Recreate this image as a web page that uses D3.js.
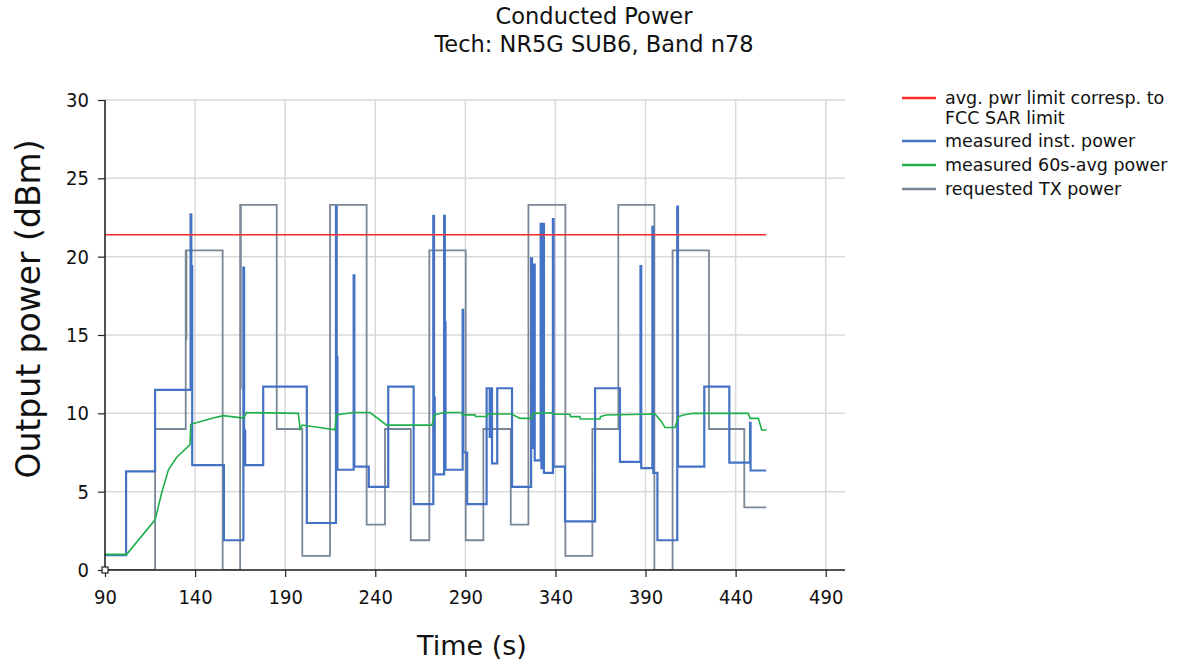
<!DOCTYPE html>
<html>
<head>
<meta charset="utf-8">
<script src="https://cdn.jsdelivr.net/npm/d3@7"></script>
<style>
  html, body { margin: 0; padding: 0; background: #fff; }
  svg { display: block; }
  text { font-family: "DejaVu Sans", Verdana, sans-serif; fill: #111; }
</style>
</head>
<body>
<svg id="chart" width="1182" height="663"></svg>
<script>
// ---------- data ----------
const titleLines = ["Conducted Power", "Tech: NR5G SUB6, Band n78"];
const xTicks = [90, 140, 190, 240, 290, 340, 390, 440, 490];
const yTicks = [0, 5, 10, 15, 20, 25, 30];
const seriesNames = ["avg. pwr limit corresp. to FCC SAR limit", "measured inst. power", "measured 60s-avg power", "requested TX power"];

const limitTime = [90, 457];
const limitPower = [21.4, 21.4];

const instTime = [90, 101.7, 117.8, 137.5, 137.9, 138.4, 156.0, 166.8, 167.2, 167.8, 177.8, 202.0, 218.2, 218.6, 219.0, 228.0, 228.4, 236.4, 247.2, 261.3, 272.2, 272.6, 273.0, 278.2, 278.6, 279.0, 288.5, 288.8, 291.0, 301.8, 303.5, 304.0, 304.8, 307.7, 315.9, 326.5, 327.0, 328.0, 328.5, 331.8, 332.2, 333.2, 333.6, 338.6, 339.0, 345.3, 362.0, 375.8, 387.2, 387.6, 393.8, 394.3, 396.6, 407.6, 408.0, 422.6, 436.5, 448.0, 448.3, 457.0];
const instPower = [0.95, 6.3, 11.5, 22.7, 19.4, 6.7, 1.9, 19.3, 8.9, 6.7, 11.7, 3.0, 23.2, 13.6, 6.4, 18.8, 6.6, 5.3, 11.7, 4.2, 22.6, 11.0, 6.1, 22.6, 15.8, 6.4, 16.6, 7.5, 4.2, 11.6, 8.5, 11.6, 6.8, 11.6, 5.3, 19.9, 7.8, 19.5, 7.0, 22.1, 6.5, 22.1, 6.2, 22.4, 6.6, 3.1, 11.6, 6.9, 19.4, 6.5, 21.9, 6.2, 1.9, 23.2, 6.6, 11.7, 6.85, 9.4, 6.35, 6.35];

const avgTime = [90, 102, 117.8, 121.4, 125.2, 129.8, 137.2, 137.6, 150, 155.7, 166.8, 168.6, 197.3, 198.3, 199.5, 217.7, 218.3, 227.8, 237.1, 246.3, 271.5, 272.8, 278, 288, 288.3, 295.4, 295.6, 301.8, 302, 315.7, 320.3, 326.8, 327.5, 337.9, 338.5, 348.1, 348.3, 353.6, 353.8, 364.7, 365, 368, 395.3, 398.9, 400.8, 406.4, 408.2, 411, 416.5, 447, 448, 452.6, 454.5, 457.2];
const avgPower = [1.0, 1.0, 3.2, 4.9, 6.4, 7.2, 8.0, 9.3, 9.7, 9.85, 9.7, 10.05, 10.0, 9.0, 9.25, 8.95, 9.9, 10.05, 10.05, 9.25, 9.25, 9.9, 10.05, 10.05, 9.9, 9.9, 9.8, 9.8, 9.96, 9.96, 9.68, 9.68, 10.0, 10.04, 9.95, 9.94, 9.79, 9.79, 9.64, 9.64, 9.79, 9.89, 9.96, 9.47, 9.1, 9.1, 9.79, 9.89, 10.0, 10.0, 9.68, 9.68, 8.94, 8.94];

const reqTime = [90, 117.8, 134.8, 135.0, 135.2, 155.3, 165.0, 165.2, 165.4, 185.3, 199.5, 214.9, 235.2, 245.4, 259.7, 270.0, 290.2, 300.0, 315.2, 325.0, 345.5, 360.5, 374.9, 394.9, 405.0, 425.2, 444.8, 457.0];
const reqPower = [0, 9.0, 20.4, 14.7, 20.4, 0, 23.3, 11.6, 23.3, 9.0, 0.9, 23.3, 2.9, 9.0, 1.9, 20.4, 1.9, 9.0, 2.9, 23.3, 0.9, 9.0, 23.3, 0, 20.4, 9.0, 4.0, 4.0];

// ---------- layout ----------
const svg = d3.select("#chart");
const L = 105, R = 845, T = 100, B = 570;
const x = d3.scaleLinear().domain([90, 500.7]).range([L, R]);
const y = d3.scaleLinear().domain([0, 30]).range([B, T]);

const colors = { limit: "#ff2a2a", inst: "#4472c4", avg: "#1fb04c", req: "#7a8797" };

// title
svg.selectAll("text.title").data(titleLines).join("text")
  .attr("class", "title")
  .attr("x", 594).attr("y", (d, i) => 24 + i * 28)
  .attr("text-anchor", "middle")
  .style("font-size", "22.5px")
  .text(d => d);

// grid
const grid = svg.append("g");
grid.selectAll("line.gx").data(xTicks).join("line")
  .attr("x1", d => x(d)).attr("x2", d => x(d)).attr("y1", T).attr("y2", B)
  .attr("stroke", "#d9d9d9").attr("stroke-width", 1.5);
grid.selectAll("line.gy").data(yTicks).join("line")
  .attr("x1", L).attr("x2", R).attr("y1", d => y(d)).attr("y2", d => y(d))
  .attr("stroke", "#d9d9d9").attr("stroke-width", 1.5);

// clip
svg.append("clipPath").attr("id", "clip").append("rect")
  .attr("x", L).attr("y", T - 2).attr("width", R - L).attr("height", B - T + 2);

const plot = svg.append("g").attr("clip-path", "url(#clip)");

const stepLine = d3.line().x(d => x(d[0])).y(d => y(d[1])).curve(d3.curveStepAfter);
const linLine = d3.line().x(d => x(d[0])).y(d => y(d[1]));

const zip = (a, b) => a.map((v, i) => [v, b[i]]);

plot.append("path").datum(zip(reqTime, reqPower))
  .attr("d", stepLine).attr("fill", "none").attr("stroke", colors.req).attr("stroke-width", 1.8);
plot.append("path").datum(zip(instTime, instPower))
  .attr("d", stepLine).attr("fill", "none").attr("stroke", colors.inst).attr("stroke-width", 2.2);
plot.append("path").datum(zip(avgTime, avgPower))
  .attr("d", linLine).attr("fill", "none").attr("stroke", colors.avg).attr("stroke-width", 1.6);
plot.append("path").datum(zip(limitTime, limitPower))
  .attr("d", linLine).attr("fill", "none").attr("stroke", colors.limit).attr("stroke-width", 1.5);

// axes
const tickFont = "'DejaVu Sans Condensed', 'DejaVu Sans', sans-serif";
const xAxis = svg.append("g").attr("transform", `translate(0,${B})`)
  .call(d3.axisBottom(x).tickValues(xTicks).tickSize(7).tickPadding(13).tickFormat(d3.format("d")));
const yAxis = svg.append("g").attr("transform", `translate(${L},0)`)
  .call(d3.axisLeft(y).tickValues(yTicks).tickSize(7).tickPadding(9).tickFormat(d3.format("d")));
[xAxis, yAxis].forEach(a => {
  a.select(".domain").attr("stroke", "#222").attr("stroke-width", 1.5);
  a.selectAll(".tick line").attr("stroke", "#222").attr("stroke-width", 1.2);
  a.selectAll(".tick text").style("font-family", tickFont).style("font-size", "20px").attr("fill", "#111");
});
xAxis.select(".domain").attr("d", `M${L},0H${R}`);
yAxis.select(".domain").attr("d", `M0,${B}V${T}`);

// origin marker
svg.append("rect").attr("x", L - 3).attr("y", B - 3).attr("width", 6).attr("height", 6)
  .attr("fill", "#fff").attr("stroke", "#222").attr("stroke-width", 1.2);

// axis labels
svg.append("text").attr("x", 472).attr("y", 655).attr("text-anchor", "middle")
  .style("font-size", "27px").text("Time (s)");
svg.append("text").attr("transform", "translate(40,309) rotate(-90)").attr("text-anchor", "middle")
  .style("font-size", "33px").text("Output power (dBm)");

// legend
const legendItems = [
  { lines: ["avg. pwr limit corresp. to", "FCC SAR limit"], color: colors.limit, y: 98 },
  { lines: ["measured inst. power"], color: colors.inst, y: 141 },
  { lines: ["measured 60s-avg power"], color: colors.avg, y: 165 },
  { lines: ["requested TX power"], color: colors.req, y: 189 }
];
const lg = svg.append("g");
legendItems.forEach(it => {
  lg.append("line").attr("x1", 902).attr("x2", 936).attr("y1", it.y).attr("y2", it.y)
    .attr("stroke", it.color).attr("stroke-width", 2.5);
  it.lines.forEach((t, i) => {
    lg.append("text").attr("x", 945).attr("y", it.y + 6 + i * 20)
      .style("font-size", "17.5px").text(t);
  });
});
</script>
</body>
</html>
